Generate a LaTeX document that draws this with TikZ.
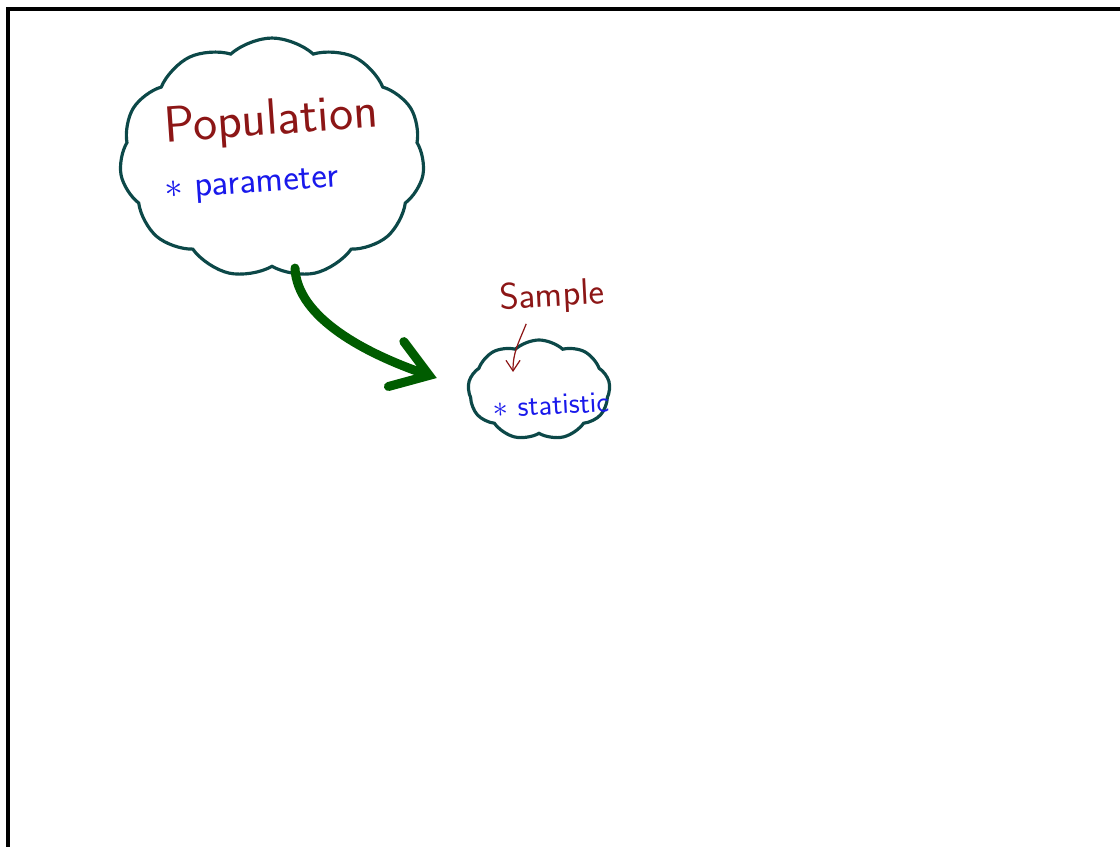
\documentclass[tikz,border=0pt]{standalone}
\usetikzlibrary{arrows.meta,shapes.symbols}

\definecolor{cloudline}{RGB}{12,72,72}
\definecolor{arrowgreen}{RGB}{0,92,0}
\definecolor{labelred}{RGB}{140,22,22}
\definecolor{noteblue}{RGB}{25,25,235}

\begin{document}
\begin{tikzpicture}[x=0.02cm,y=-0.02cm,
    cloudnode/.style={cloud,draw=cloudline,line width=1.8pt,cloud ignores aspect,cloud puff arc=85,inner sep=0pt},
    redtext/.style={text=labelred},
    bluetext/.style={text=noteblue}]

    % 表示範囲
    \useasboundingbox (0,0) rectangle (1120,847);

    % 枠を描画
    \draw[line width=2pt] (8,847) -- (8,9) -- (1120,9);

    % 雲を描画
    \node[cloudnode,cloud puffs=11,minimum width=6.1cm,minimum height=4.8cm] (pop) at (272,158) {};
    \node[cloudnode,cloud puffs=9,minimum width=2.84cm,minimum height=2.0cm] (samp) at (539,390) {};

    % 文字の描画
    \node[redtext,font=\sffamily\fontsize{29}{33}\selectfont,rotate=4] (poplabel) at (271,122) {Population};
    \node[bluetext,font=\sffamily\fontsize{21}{25}\selectfont,rotate=4] (param) at (252,186) {$\ast$ parameter};
    \node[redtext,font=\sffamily\fontsize{21}{25}\selectfont,rotate=3] (samplabel) at (552,297) {Sample};
    \node[bluetext,font=\sffamily\fontsize{17}{21}\selectfont,rotate=3] (stat) at (551,405) {$\ast$ statistic};

    % 矢印の描画
    \coordinate (sampin) at ([shift={(-26,-18)}]samp.center);
    \draw[arrowgreen,line width=0.18cm,line cap=round,
          -{Straight Barb[length=0.7cm,width=0.95cm,line cap=round]}]
        ([shift={(23,0)}]pop.south) .. controls +(2,50) and +(-70,-24) .. ([shift={(-30,-12)}]samp.west);
    \draw[labelred,line width=0.7pt,-{Straight Barb[length=6pt,width=8pt]}]
        ([shift={(-27,4)}]samplabel.south) .. controls +(-8,20) and +(0,-20) .. (sampin);

\end{tikzpicture}
\end{document}
